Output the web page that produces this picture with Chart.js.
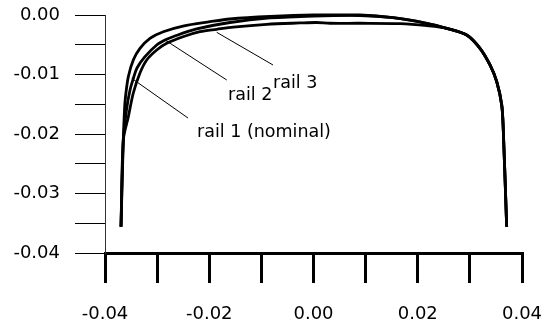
<!DOCTYPE html>
<html>
<head>
<meta charset="utf-8">
<script src="https://cdn.jsdelivr.net/npm/chart.js@4/dist/chart.umd.min.js"></script>
<style>
  body { margin: 0; background: #fff; }
</style>
</head>
<body>
<canvas id="rail_chart" width="550" height="324"></canvas>
<script>
// rail head profiles (x, y in metres)
const rail1X = [-0.03693, -0.03649, -0.03626, -0.03607, -0.03553, -0.03457, -0.03329, -0.03137, -0.02882, -0.02504, -0.01986, -0.01602, -0.00835, 0.0, 0.00892, 0.01525, 0.02172, 0.02555, 0.02939, 0.03194, 0.03386, 0.03515, 0.03611, 0.03641, 0.03706];
const rail1Y = [-0.03558, -0.02101, -0.01597, -0.01378, -0.01037, -0.00756, -0.00560, -0.00392, -0.00281, -0.00185, -0.00113, -0.00067, -0.00025, 0.0, 0.0, -0.00045, -0.00139, -0.00224, -0.00336, -0.00560, -0.00840, -0.01121, -0.01513, -0.01933, -0.03558];

const rail2X = [-0.03693, -0.03649, -0.03588, -0.03520, -0.03453, -0.03386, -0.03233, -0.03008, -0.02849, -0.02695, -0.02241, -0.01602, -0.00835, 0.0, 0.00892, 0.01525, 0.02172, 0.02555, 0.02939, 0.03194, 0.03386, 0.03515, 0.03611, 0.03641, 0.03706];
const rail2Y = [-0.03558, -0.02101, -0.01597, -0.01261, -0.01059, -0.00891, -0.00701, -0.00504, -0.00420, -0.00365, -0.00235, -0.00126, -0.00050, -0.00017, -0.00008, -0.00045, -0.00139, -0.00224, -0.00336, -0.00560, -0.00840, -0.01121, -0.01513, -0.01933, -0.03558];

const rail3X = [-0.03693, -0.03649, -0.03553, -0.03457, -0.03329, -0.03200, -0.03008, -0.02816, -0.02504, -0.02177, -0.01857, -0.01539, -0.00898, -0.00259, 0.00061, 0.00317, 0.00892, 0.01659, 0.02177, 0.02555, 0.02939, 0.03194, 0.03386, 0.03515, 0.03611, 0.03641, 0.03706];
const rail3Y = [-0.03558, -0.02101, -0.01714, -0.01311, -0.00975, -0.00756, -0.00588, -0.00476, -0.00365, -0.00281, -0.00240, -0.00202, -0.00156, -0.00134, -0.00126, -0.00139, -0.00139, -0.00146, -0.00180, -0.00224, -0.00336, -0.00560, -0.00840, -0.01121, -0.01513, -0.01933, -0.03558];

// annotation labels and their leader lines
const labelText = ['rail 1 (nominal)', 'rail 2', 'rail 3'];
const labelX = [-0.02235, -0.01640, -0.00777];
const labelY = [-0.02047, -0.01429, -0.01227];
const leaderStartX = [-0.03488, -0.02849, -0.01857];
const leaderStartY = [-0.01064, -0.00420, -0.00291];
const leaderEndX = [-0.02408, -0.01665, -0.00777];
const leaderEndY = [-0.01731, -0.01092, -0.00840];

const toPoints = (xs, ys) => xs.map((x, i) => ({x: x, y: ys[i]}));

const curve = (xs, ys) => ({
    data: toPoints(xs, ys),
    borderColor: '#000',
    borderWidth: 2.8,
    pointRadius: 0,
    tension: 0.3,
    clip: 6
});

const leaders = labelText.map((t, i) => ({
    data: [{x: leaderStartX[i], y: leaderStartY[i]}, {x: leaderEndX[i], y: leaderEndY[i]}],
    borderColor: '#000',
    borderWidth: 1,
    pointRadius: 0,
    tension: 0
}));

// writes the rail names at their data positions
const railLabels = {
    id: 'railLabels',
    afterDatasetsDraw(chart) {
        const {ctx, scales: {x, y}} = chart;
        ctx.save();
        ctx.font = '17.5px "DejaVu Sans"';
        ctx.fillStyle = '#000';
        ctx.textBaseline = 'alphabetic';
        labelText.forEach((t, i) => {
            ctx.fillText(t, x.getPixelForValue(labelX[i]), y.getPixelForValue(labelY[i]));
        });
        ctx.restore();
    }
};

const tickFont = {family: 'DejaVu Sans', size: 18};

new Chart(document.getElementById('rail_chart'), {
    type: 'line',
    data: {
        datasets: [curve(rail1X, rail1Y), curve(rail2X, rail2Y), curve(rail3X, rail3Y), ...leaders]
    },
    options: {
        responsive: false,
        animation: false,
        layout: {padding: {top: 15, right: 28, left: 0, bottom: 0}},
        plugins: {legend: {display: false}, tooltip: {enabled: false}},
        scales: {
            x: {
                type: 'linear',
                min: -0.04,
                max: 0.04,
                // fixed axis height, no extra label overhang padding
                afterFit: s => { s.height = 71; s.paddingLeft = 0; s.paddingRight = 0; },
                border: {display: true, color: '#000', width: 3},
                grid: {drawOnChartArea: false, drawTicks: true, tickLength: 30, color: '#000', lineWidth: 3},
                ticks: {
                    stepSize: 0.01,
                    padding: 21,
                    color: '#000',
                    font: tickFont,
                    maxRotation: 0,
                    autoSkip: false,
                    callback: v => (Math.round(v * 100) % 2 === 0 ? v.toFixed(2) : '')
                }
            },
            y: {
                type: 'linear',
                min: -0.04,
                max: 0,
                afterFit: s => { s.width = 105; s.paddingTop = 0; s.paddingBottom = 0; },
                border: {display: true, color: '#333', width: 1},
                grid: {drawOnChartArea: false, drawTicks: true, tickLength: 30, color: '#000', lineWidth: 1},
                ticks: {
                    stepSize: 0.005,
                    padding: 15,
                    color: '#000',
                    font: tickFont,
                    autoSkip: false,
                    callback: v => (Math.round(v * 200) % 2 === 0 ? v.toFixed(2) : '')
                }
            }
        }
    },
    plugins: [railLabels]
});
</script>
</body>
</html>
